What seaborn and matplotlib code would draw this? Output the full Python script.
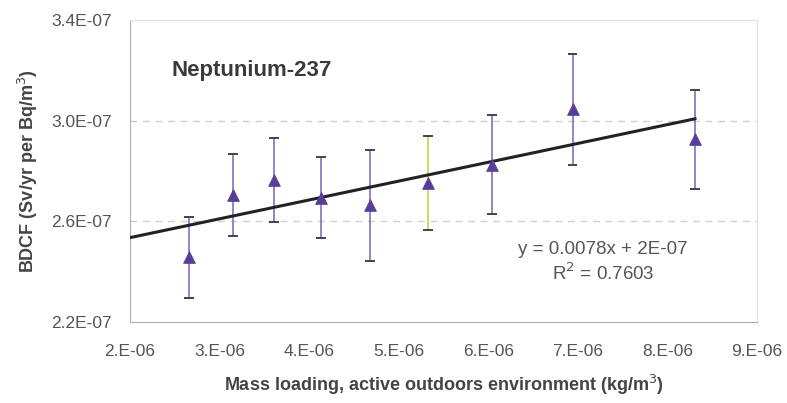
import numpy as np
import pandas as pd
import matplotlib
matplotlib.use("Agg")
import matplotlib.pyplot as plt
import seaborn as sns

# values
mass_loading = [2.66e-6, 3.15e-6, 3.61e-6, 4.13e-6, 4.68e-6, 5.33e-6, 6.04e-6, 6.94e-6, 8.31e-6]
bdcf = [2.457e-7, 2.703e-7, 2.764e-7, 2.693e-7, 2.664e-7, 2.751e-7, 2.825e-7, 3.045e-7, 2.927e-7]
bdcf_err = [0.162e-7, 0.163e-7, 0.166e-7, 0.161e-7, 0.221e-7, 0.187e-7, 0.197e-7, 0.219e-7, 0.197e-7]
bar_colors = ["#7a72c4"] * 5 + ["#c6d640"] + ["#7a72c4"] * 3

x_ticks = [2e-6, 3e-6, 4e-6, 5e-6, 6e-6, 7e-6, 8e-6, 9e-6]
x_ticklabels = ["2.E-06", "3.E-06", "4.E-06", "5.E-06", "6.E-06", "7.E-06", "8.E-06", "9.E-06"]
y_ticks = [2.2e-7, 2.6e-7, 3.0e-7, 3.4e-7]
y_ticklabels = ["2.2E-07", "2.6E-07", "3.0E-07", "3.4E-07"]

df = pd.DataFrame({"x": mass_loading, "y": bdcf, "err": bdcf_err})

sns.set_style("white")
plt.rcParams["font.family"] = ["Liberation Sans", "DejaVu Sans"]

fig = plt.figure(figsize=(7.87, 4.03), dpi=100)
ax = fig.add_axes([0.165, 0.201, 0.797, 0.749])

# dashed gridlines
for yv in y_ticks[1:3]:
    ax.axhline(yv, color="#d0d0d0", lw=1, ls=(0, (5, 4)), zorder=0)

# linear trend line (fit from data), from axis start to last point
slope, intercept = np.polyfit(df["x"], df["y"], 1)
trend = pd.DataFrame({"x": [x_ticks[0], df["x"].max()]})
trend["y"] = slope * trend["x"] + intercept
sns.lineplot(data=trend, x="x", y="y", color="#222222", lw=2.2, ax=ax, zorder=3)

# error bars: coloured stems, dark caps
cap_half = 0.055e-6
for xi, yi, ei, c in zip(df["x"], df["y"], df["err"], bar_colors):
    ax.errorbar(xi, yi, yerr=ei, fmt="none", ecolor=c, elinewidth=1.2, capsize=0, zorder=2)
    ax.hlines([yi - ei, yi + ei], xi - cap_half, xi + cap_half, color="#444444", lw=1.4, zorder=2)

sns.scatterplot(data=df, x="x", y="y", marker="^", s=70, color="#5a3d9a",
                edgecolor="#5a3d9a", ax=ax, zorder=4)

ax.set_xlim(x_ticks[0], x_ticks[-1])
ax.set_ylim(y_ticks[0], y_ticks[-1])
ax.set_xticks(x_ticks)
ax.set_xticklabels(x_ticklabels)
ax.set_yticks(y_ticks)
ax.set_yticklabels(y_ticklabels)
ax.tick_params(axis="both", labelsize=12.5, colors="#555555", length=4, width=1,
               direction="out")
ax.tick_params(axis="x", pad=12)
ax.tick_params(axis="y", pad=9)
ax.tick_params(axis="both", which="major", color="#aaaaaa")

for side in ["left", "bottom"]:
    ax.spines[side].set_color("#b0b0b0")
for side in ["top", "right"]:
    ax.spines[side].set_color("#e2e2e2")

ax.set_xlabel("Mass loading, active outdoors environment (kg/m$^3$)", fontsize=13,
              fontweight="bold", color="#444444", labelpad=10)
ax.set_ylabel("BDCF (Sv/yr per Bq/m$^3$)", fontsize=13, fontweight="bold",
              color="#444444", labelpad=8)

ax.text(0.067, 0.834, "Neptunium-237", transform=ax.transAxes, fontsize=16,
        fontweight="bold", color="#3a3a3a", ha="left", va="center")
ax.text(0.754, 0.197, "y = 0.0078x + 2E-07\nR$^2$ = 0.7603", transform=ax.transAxes,
        fontsize=13.5, color="#555555", ha="center", va="center", linespacing=1.3)

fig.savefig("out.png", dpi=100)
